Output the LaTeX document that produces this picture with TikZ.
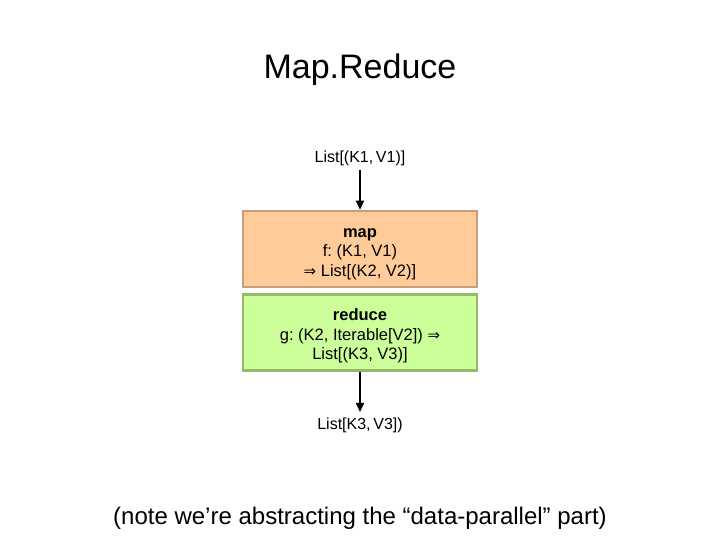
\documentclass[tikz,border=0pt]{standalone}
\usepackage{fontspec}
\setmainfont{Liberation Sans}
\newfontfamily\symfont{DejaVu Sans}
\usetikzlibrary{arrows.meta}
\frenchspacing
\definecolor{mapfill}{RGB}{255,204,153}
\definecolor{mapdraw}{RGB}{196,160,122}
\definecolor{redfill}{RGB}{204,255,153}
\definecolor{reddraw}{RGB}{150,185,105}
\newcommand{\dimp}{{\symfont\fontsize{15}{19.5}\selectfont ⇒}}
\newcommand{\topstrut}{\rule{0pt}{20pt}}
\newcommand{\botstrut}{\rule[-4pt]{0pt}{4pt}}
\begin{document}
\begin{tikzpicture}[x=1pt,y=1pt,
  stagebox/.style={minimum width=234pt,minimum height=76pt,line width=2.5pt,inner sep=0pt,align=center,font=\fontsize{16.5}{19.5}\selectfont},
  flow/.style={-{Triangle[length=9pt,width=8pt]},line width=1.6pt},
  lbl/.style={font=\fontsize{16}{18}\selectfont,inner sep=0pt}]
\useasboundingbox (0,0) rectangle (720,540);
\node[inner sep=0pt,font=\fontsize{34}{40}\selectfont] (title) at (360,470) {Map.Reduce};
\node[lbl] (in) at (360,382) {List[(K1,\,V1)]};
\node[stagebox,fill=mapfill,draw=mapdraw] (map) at (360,291) {\topstrut\textbf{map}\\f: (K1, V1)\\\dimp{} List[(K2, V2)]\botstrut};
\node[stagebox,fill=redfill,draw=reddraw] (red) at (360,207.5) {\topstrut\textbf{reduce}\\g: (K2, Iterable[V2]) \dimp\\List[(K3, V3)]\botstrut};
\node[lbl] (out) at (360,115) {List[K3,\,V3])};
\node[inner sep=0pt,font=\fontsize{24}{28}\selectfont] (note) at (360,22) {(note we’re abstracting the “data-parallel” part)};
\draw[flow] (360,370) -- (map.north);
\draw[flow] (red.south) -- (360,128);
\end{tikzpicture}
\end{document}
